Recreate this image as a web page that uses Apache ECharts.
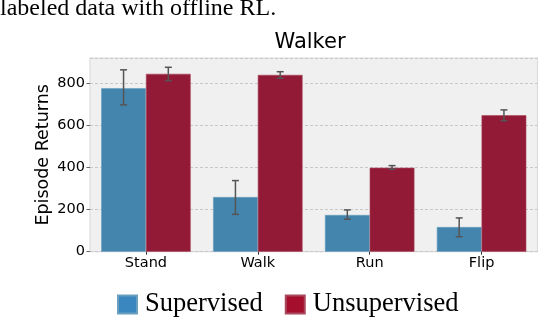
<!DOCTYPE html>
<html>
<head>
<meta charset="utf-8">
<script src="https://cdn.jsdelivr.net/npm/echarts@6/dist/echarts.min.js"></script>
<style>html,body{margin:0;padding:0;background:#fff}#c{width:540px;height:318px}</style>
</head>
<body>
<div id="c"></div>
<script>
const categories = ['Stand', 'Walk', 'Run', 'Flip'];
const supervised = [775, 259, 174, 117];
const supervisedLow = [696, 177, 154, 71];
const supervisedHigh = [862, 337, 198, 160];
const unsupervised = [843, 838, 398, 647];
const unsupervisedLow = [811, 822, 391, 621];
const unsupervisedHigh = [874, 853, 408, 672];
const yTicks = [0, 200, 400, 600, 800];

const chart = echarts.init(document.getElementById('c'), null, {renderer: 'canvas'});

function errData(low, high) {
  return categories.map((c, i) => [i, low[i], high[i]]);
}
function errRender(sign) {
  return function (params, api) {
    const i = api.value(0);
    const lo = api.coord([i, api.value(1)]);
    const hi = api.coord([i, api.value(2)]);
    const band = api.size([1, 0])[0];
    const x = lo[0] + sign * band * 0.2;
    const cap = 3.5;
    const st = {stroke: '#555555', lineWidth: 1.5};
    return {
      type: 'group',
      children: [
        {type: 'line', shape: {x1: x, y1: lo[1], x2: x, y2: hi[1]}, style: st},
        {type: 'line', shape: {x1: x - cap, y1: lo[1], x2: x + cap, y2: lo[1]}, style: st},
        {type: 'line', shape: {x1: x - cap, y1: hi[1], x2: x + cap, y2: hi[1]}, style: st}
      ]
    };
  };
}

chart.setOption({
  animation: false,
  title: {
    text: 'Walker', left: 310, top: 32, textAlign: 'center', padding: 0,
    textStyle: {fontFamily: 'DejaVu Sans', fontSize: 21, fontWeight: 'normal', color: '#000'}
  },
  graphic: [{
    type: 'text', left: 0, top: -3,
    style: {text: 'labeled data with offline RL.', font: '24px "Liberation Serif", serif', fill: '#000'}
  }],
  legend: {
    left: 117, top: 291, padding: 0,
    itemWidth: 19, itemHeight: 18, itemGap: 22,
    icon: 'rect',
    textStyle: {fontFamily: 'Liberation Serif', fontSize: 26.5, color: '#000', padding: [0, 0, 0, 3]},
    data: [
      {name: 'Supervised', itemStyle: {color: '#3A87C0'}},
      {name: 'Unsupervised', itemStyle: {color: '#A50F2D'}}
    ]
  },
  grid: {
    left: 90, right: 2.5, top: 58, bottom: 66.3,
    show: true, backgroundColor: '#f0f0f0', borderColor: '#dcdcdc', borderWidth: 1.2
  },
  xAxis: {
    type: 'category', data: categories,
    axisLine: {show: false},
    axisTick: {show: true, alignWithLabel: true, length: 3, lineStyle: {color: '#333'}},
    axisLabel: {fontFamily: 'DejaVu Sans', fontSize: 14.5, color: '#000', margin: 4}
  },
  yAxis: {
    type: 'value', min: 0, max: 918, interval: 200,
    name: 'Episode Returns', nameLocation: 'middle', nameGap: 38, nameMoveOverlap: false,
    nameTextStyle: {fontFamily: 'DejaVu Sans', fontSize: 17.5, color: '#000'},
    axisLine: {show: false},
    axisTick: {show: true, length: 3.5, lineStyle: {color: '#666'}},
    axisLabel: {
      fontFamily: 'DejaVu Sans', fontSize: 14.5, color: '#000', margin: 5, showMaxLabel: false,
      formatter: v => (yTicks.indexOf(v) >= 0 ? String(v) : '')
    },
    splitLine: {show: true, lineStyle: {color: '#c8c8c8', type: [3, 2], width: 1}}
  },
  series: [
    {
      name: 'Supervised', type: 'bar', data: supervised, barWidth: '40%', barGap: '0%',
      itemStyle: {color: '#4485AD', borderColor: '#6a9fc0', borderWidth: 0.6}
    },
    {
      name: 'Unsupervised', type: 'bar', data: unsupervised, barWidth: '40%', barGap: '0%',
      itemStyle: {color: '#931A36', borderColor: '#a9485e', borderWidth: 0.6}
    },
    {
      type: 'custom', renderItem: errRender(-1), data: errData(supervisedLow, supervisedHigh),
      encode: {x: 0, y: [1, 2]}, z: 10, silent: true
    },
    {
      type: 'custom', renderItem: errRender(1), data: errData(unsupervisedLow, unsupervisedHigh),
      encode: {x: 0, y: [1, 2]}, z: 10, silent: true
    }
  ]
});
</script>
</body>
</html>
